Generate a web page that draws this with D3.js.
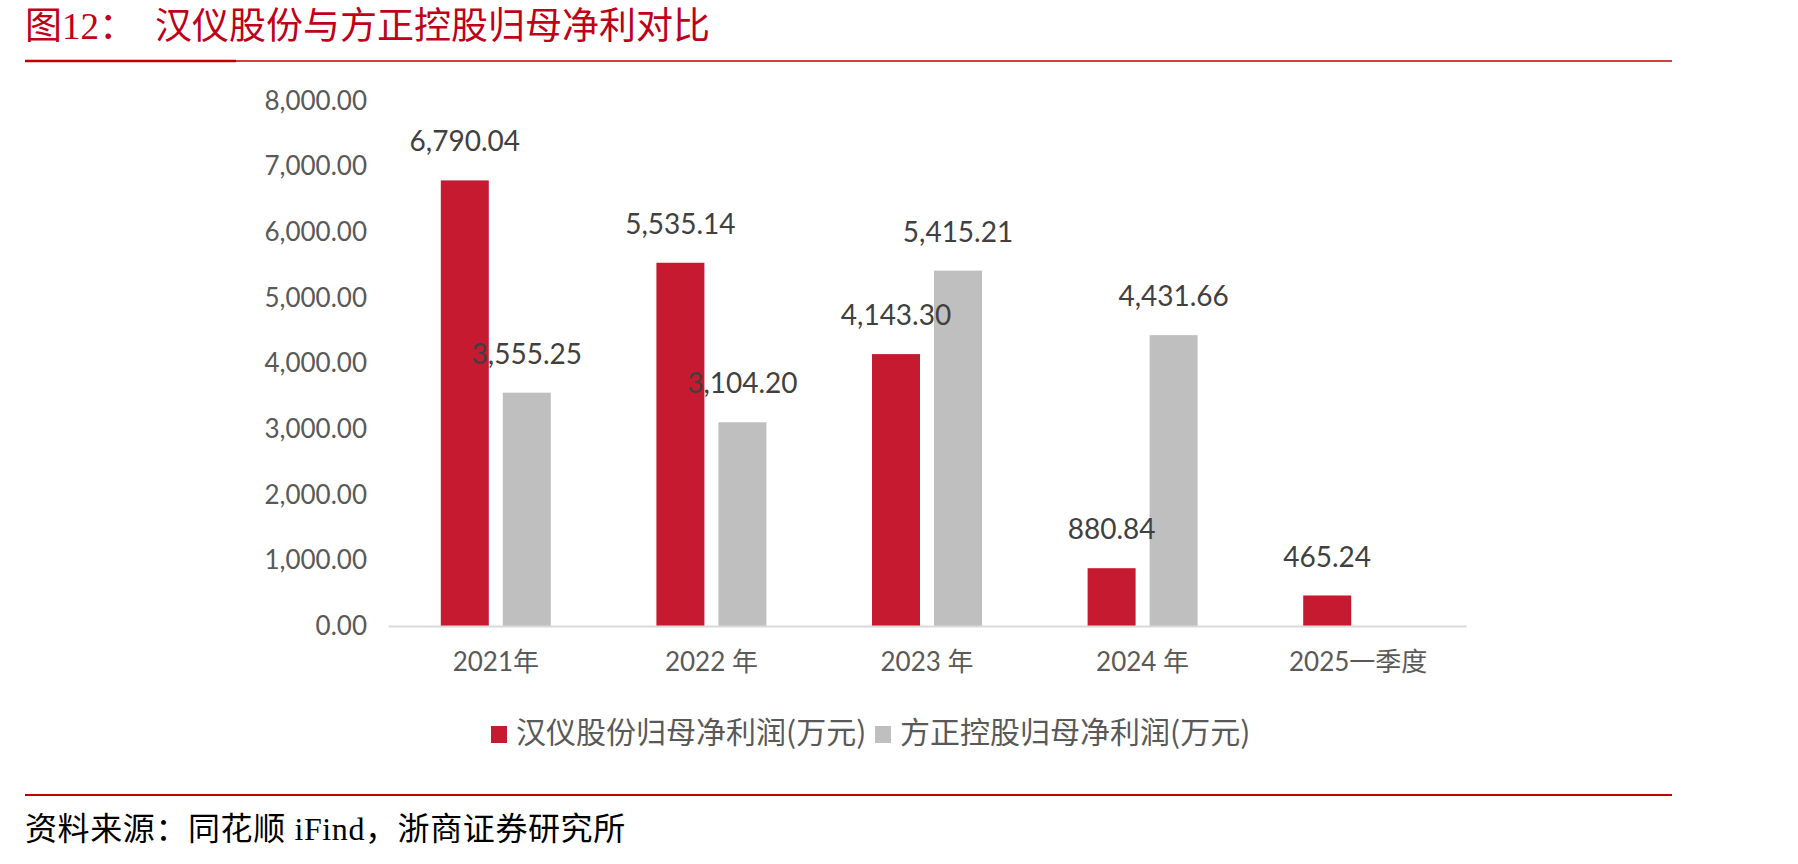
<!DOCTYPE html>
<html>
<head>
<meta charset="utf-8">
<script src="https://d3js.org/d3.v7.min.js"></script>
<style>
  body { margin: 0; background: #fff; }
  svg { display: block; }
</style>
</head>
<body>
<svg id="chart" width="1798" height="864"></svg>
<script>
// data
var categories = ['2021年', '2022 年', '2023 年', '2024 年', '2025一季度'];
var seriesNames = ['汉仪股份归母净利润(万元)', '方正控股归母净利润(万元)'];
var hanyiValues = [6790.04, 5535.14, 4143.30, 880.84, 465.24];
var fangzhengValues = [3555.25, 3104.20, 5415.21, 4431.66, null];
var yTicks = [0, 1000, 2000, 3000, 4000, 5000, 6000, 7000, 8000];
var colors = ['#C51A2F', '#BFBFBF'];

var svg = d3.select('#chart'),
    numFont = 'Lato, "Noto Sans CJK SC", sans-serif',
    serifFont = '"Liberation Serif", "Noto Sans CJK SC", serif',
    redLine = '#C00000';

// header
svg.append('text')
    .attr('x', 25).attr('y', 39)
    .attr('font-family', serifFont).attr('font-size', 37)
    .attr('fill', '#C00018')
    .text('图12：');
svg.append('text')
    .attr('x', 155).attr('y', 39)
    .attr('font-family', serifFont).attr('font-size', 37)
    .attr('fill', '#C00018')
    .text('汉仪股份与方正控股归母净利对比');

svg.append('line').attr('x1', 25).attr('x2', 1672).attr('y1', 61).attr('y2', 61)
    .attr('stroke', redLine).attr('stroke-width', 1.5);
svg.append('line').attr('x1', 25).attr('x2', 236).attr('y1', 61).attr('y2', 61)
    .attr('stroke', redLine).attr('stroke-width', 2.5);

// scales
var x0 = d3.scaleBand().domain(categories).range([388, 1466]);
var pairWidth = 110;
var x1 = d3.scaleBand().domain([0, 1]).range([0, pairWidth]).paddingInner(0.226).paddingOuter(0);
var y = d3.scaleLinear().domain([0, 8000]).range([626, 101]);

// y axis labels (no axis line)
var yAxis = d3.axisLeft(y).tickValues(yTicks).tickSize(0).tickPadding(0)
    .tickFormat(d3.format(',.2f'));
var gy = svg.append('g').attr('transform', 'translate(367,0)').call(yAxis);
gy.select('.domain').remove();
gy.selectAll('text')
    .attr('font-family', numFont).attr('font-size', 26)
    .attr('fill', '#595959');

// bars
var rows = categories.map(function(c, i) {
    return { cat: c, vals: [hanyiValues[i], fangzhengValues[i]] };
});

var groups = svg.selectAll('g.cat').data(rows).enter().append('g')
    .attr('class', 'cat')
    .attr('transform', function(d) {
        return 'translate(' + (x0(d.cat) + (x0.bandwidth() - pairWidth) / 2) + ',0)';
    });

function present(d) {
    return d.vals.map(function(v, k) { return { k: k, v: v }; }).filter(function(e) { return e.v != null; });
}

groups.selectAll('rect').data(present).enter().append('rect')
    .attr('x', function(e) { return x1(e.k); })
    .attr('width', x1.bandwidth())
    .attr('y', function(e) { return y(e.v); })
    .attr('height', function(e) { return y(0) - y(e.v); })
    .attr('fill', function(e) { return colors[e.k]; });

groups.selectAll('text.val').data(present).enter().append('text')
    .attr('class', 'val')
    .attr('x', function(e) { return x1(e.k) + x1.bandwidth() / 2; })
    .attr('y', function(e) { return y(e.v) - 36; })
    .attr('text-anchor', 'middle').attr('dominant-baseline', 'middle')
    .attr('font-family', numFont).attr('font-size', 28)
    .attr('fill', '#404040')
    .text(function(e) { return d3.format(',.2f')(e.v); });

// x axis
var xAxis = d3.axisBottom(x0).tickSize(0).tickPadding(27);
var gx = svg.append('g').attr('transform', 'translate(0,' + y(0) + ')').call(xAxis);
gx.select('.domain').attr('stroke', '#D9D9D9').attr('stroke-width', 2);
gx.selectAll('text')
    .attr('font-family', numFont).attr('font-size', 26)
    .attr('fill', '#595959');

// legend
var legendX = [491, 875];
seriesNames.forEach(function(name, i) {
    svg.append('rect').attr('x', legendX[i]).attr('y', 726)
        .attr('width', 16).attr('height', 17).attr('fill', colors[i]);
    svg.append('text').attr('x', legendX[i] + 25).attr('y', 735)
        .attr('dominant-baseline', 'middle')
        .attr('font-family', '"Noto Sans CJK SC", sans-serif').attr('font-size', 30)
        .attr('fill', '#595959')
        .text(name);
});

// footer
svg.append('line').attr('x1', 25).attr('x2', 1672).attr('y1', 795).attr('y2', 795)
    .attr('stroke', redLine).attr('stroke-width', 2);
svg.append('text')
    .attr('x', 25).attr('y', 840)
    .attr('font-family', serifFont).attr('font-size', 32)
    .attr('letter-spacing', 0.6)
    .attr('fill', '#000')
    .text('资料来源：同花顺 iFind，浙商证券研究所');
</script>
</body>
</html>
